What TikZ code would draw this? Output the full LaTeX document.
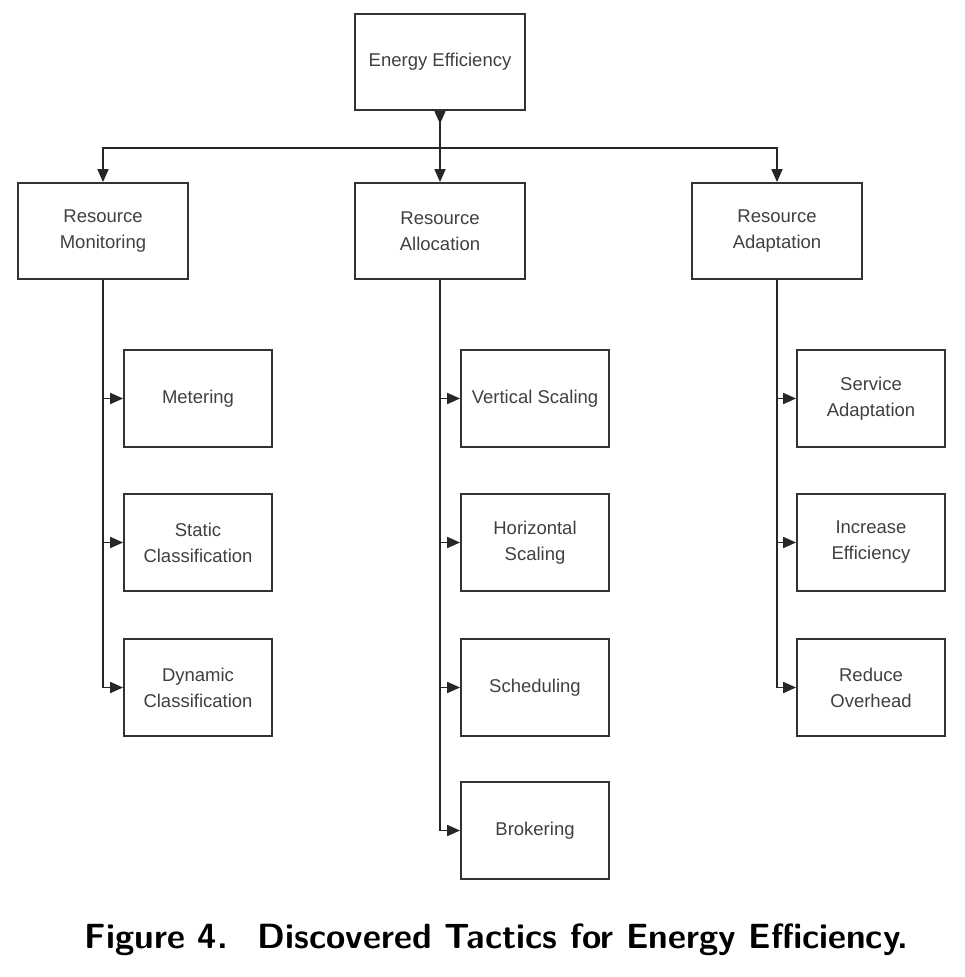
\documentclass[tikz,border=0pt]{standalone}
\usepackage{fontspec}
\newfontfamily\nodefont{Liberation Sans}
\usetikzlibrary{arrows.meta}
\tikzset{
  box/.style={draw=black!80, line width=1.8pt, fill=white, align=center, inner sep=0pt,
    text=black!75, font=\nodefont\fontsize{18.5}{26}\selectfont},
  topbox/.style={box, minimum width=170pt, minimum height=96pt},
  leafbox/.style={box, minimum width=148pt, minimum height=97pt},
  conn/.style={draw=black!85, line width=1.8pt},
  arr/.style={conn, -{Triangle[length=13pt,width=11pt]}},
}
\begin{document}
\begin{tikzpicture}[x=1pt,y=-1pt]
\useasboundingbox (0,0) rectangle (964,977);
% top
\node[topbox] (ee) at (440,62) {Energy Efficiency};
\node[topbox] (rm) at (103,231) {Resource\\Monitoring};
\node[topbox] (ra) at (440,231) {Resource\\Allocation};
\node[topbox] (rad) at (777,231) {Resource\\Adaptation};
% leaves
\node[leafbox] (met) at (198,398.5) {Metering};
\node[leafbox] (stc) at (198,542.5) {Static\\Classification};
\node[leafbox] (dyn) at (198,687.5) {Dynamic\\Classification};
\node[leafbox] (vs) at (535,398.5) {Vertical Scaling};
\node[leafbox] (hs) at (535,542.5) {Horizontal\\Scaling};
\node[leafbox] (sch) at (535,687.5) {Scheduling};
\node[leafbox] (bro) at (535,830.5) {Brokering};
\node[leafbox] (sa) at (871,398.5) {Service\\Adaptation};
\node[leafbox] (ie) at (871,542.5) {Increase\\Efficiency};
\node[leafbox] (ro) at (871,687.5) {Reduce\\Overhead};
% connectors
\coordinate (bar) at (440,148);
\draw[conn, {Triangle[length=13pt,width=11pt,reversed]}-{Triangle[length=13pt,width=11pt]}] (ee.south) -- (ra.north);
\draw[arr] (bar) -| (rm.north);
\draw[arr] (bar) -| (rad.north);
\foreach \p/\c in {rm/met, rm/stc, rm/dyn, ra/vs, ra/hs, ra/sch, ra/bro, rad/sa, rad/ie, rad/ro}{
  \draw[arr] (\p.south) |- (\c.west);
}
% caption
\node[font=\sffamily\bfseries\fontsize{35}{42}\selectfont, anchor=base] (cap) at (496.5,948)
  {Figure 4.\hspace{30pt}Discovered Tactics for Energy Efficiency.};
\end{tikzpicture}
\end{document}
